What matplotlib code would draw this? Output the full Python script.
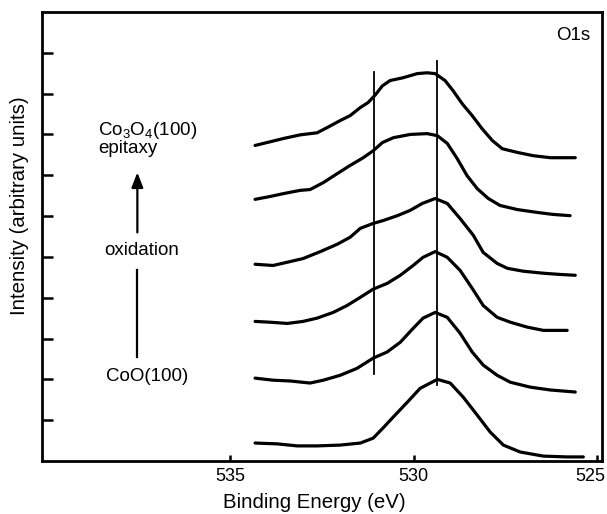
import numpy as np
import matplotlib.pyplot as plt
from matplotlib.transforms import ScaledTranslation

plt.rcParams['font.family'] = ['Liberation Sans', 'DejaVu Sans']
plt.rcParams['mathtext.fontset'] = 'custom'
plt.rcParams['mathtext.rm'] = 'Liberation Sans'
plt.rcParams['mathtext.it'] = 'Liberation Sans'

# O1s spectra, bottom (CoO) to top (Co3O4 epitaxy), offset already included
e6 = [534.32, 533.72, 533.17, 532.63, 532.00, 531.45, 531.10, 530.83, 530.55, 530.17,
      529.82, 529.35, 529.00, 528.64, 528.26, 527.91, 527.55, 527.09, 526.46, 525.81, 525.37]
i6 = [0.44, 0.42, 0.37, 0.37, 0.39, 0.44, 0.56, 0.81, 1.08, 1.44,
      1.78, 2.00, 1.91, 1.56, 1.12, 0.71, 0.39, 0.22, 0.12, 0.10, 0.10]

e5 = [534.32, 533.83, 533.36, 532.82, 532.46, 532.00, 531.54, 531.10, 530.72, 530.36, 530.01,
      529.74, 529.41, 529.08, 528.73, 528.40, 528.10, 527.72, 527.36, 526.82, 526.27, 525.59]
i5 = [2.03, 1.98, 1.96, 1.91, 1.98, 2.10, 2.27, 2.52, 2.67, 2.91, 3.25,
      3.50, 3.64, 3.52, 3.13, 2.67, 2.35, 2.10, 1.93, 1.81, 1.74, 1.69]

e4 = [534.32, 533.91, 533.44, 533.01, 532.63, 532.19, 531.81, 531.45, 531.10, 530.72, 530.36,
      530.01, 529.74, 529.41, 529.08, 528.73, 528.40, 528.10, 527.72, 527.36, 526.90, 526.46, 525.81]
i4 = [3.42, 3.40, 3.37, 3.42, 3.50, 3.64, 3.81, 4.01, 4.21, 4.35, 4.55,
      4.79, 4.99, 5.13, 4.99, 4.67, 4.23, 3.81, 3.52, 3.40, 3.28, 3.20, 3.20]

e3 = [534.32, 533.83, 533.44, 533.01, 532.54, 532.08, 531.73, 531.45, 531.10, 530.83, 530.44, 530.09,
      529.76, 529.41, 529.08, 528.73, 528.37, 528.10, 527.72, 527.44, 527.01, 526.46, 526.00, 525.59]
i3 = [4.82, 4.79, 4.87, 4.96, 5.13, 5.31, 5.48, 5.70, 5.82, 5.89, 6.01, 6.14,
      6.31, 6.43, 6.31, 5.94, 5.53, 5.11, 4.84, 4.72, 4.65, 4.60, 4.57, 4.55]

e2 = [534.32, 533.91, 533.55, 533.09, 532.82, 532.46, 532.08, 531.73, 531.37, 531.10, 530.85, 530.55,
      530.09, 529.63, 529.35, 529.08, 528.81, 528.54, 528.26, 527.96, 527.64, 527.17, 526.63, 526.19, 525.73]
i2 = [6.41, 6.48, 6.55, 6.63, 6.65, 6.82, 7.04, 7.24, 7.43, 7.60, 7.80, 7.92,
      8.00, 8.02, 7.97, 7.78, 7.41, 6.99, 6.67, 6.43, 6.26, 6.16, 6.09, 6.04, 6.01]

e1 = [534.32, 533.91, 533.55, 533.09, 532.63, 532.35, 532.00, 531.73, 531.45, 531.24, 531.04, 530.85,
      530.64, 530.28, 529.90, 529.63, 529.41, 529.14, 528.92, 528.67, 528.40, 528.13, 527.85, 527.58,
      527.17, 526.74, 526.27, 525.59]
i1 = [7.73, 7.82, 7.90, 7.99, 8.04, 8.17, 8.34, 8.46, 8.66, 8.78, 8.97, 9.19,
      9.32, 9.39, 9.49, 9.51, 9.49, 9.32, 9.07, 8.75, 8.46, 8.14, 7.85, 7.65,
      7.56, 7.48, 7.43, 7.43]

# reference lines (binding energy, y from, y to)
vlines_e = [531.07, 529.35]
vlines_lo = [2.13, 1.86]
vlines_hi = [9.54, 9.80]

xticks = [535, 530, 525]

fig = plt.figure(figsize=(6.07, 5.14), dpi=100)
ax = fig.add_axes([0.0692, 0.1031, 0.9226, 0.8736])

for e, i in [(e1, i1), (e2, i2), (e3, i3), (e4, i4), (e5, i5), (e6, i6)]:
    ax.plot(e, i, color='black', lw=2.3, solid_joinstyle='round', solid_capstyle='round')

for xe, lo, hi in zip(vlines_e, vlines_lo, vlines_hi):
    ax.plot([xe, xe], [lo, hi], color='black', lw=1.3)

ax.set_xlim(540.13, 524.86)
ax.set_ylim(0, 11)
ax.set_xticks(xticks)
ax.set_xticklabels([str(t) for t in xticks])
ax.set_yticks(range(1, 11))
ax.set_yticklabels([])
ax.tick_params(axis='x', direction='in', length=4.5, width=1.8, labelsize=13, pad=5)
ax.tick_params(axis='y', direction='in', length=8, width=1.8)
for s in ax.spines.values():
    s.set_linewidth(2.0)

# last tick label sits a bit left so it stays inside the figure
lab = ax.get_xticklabels()[-1]
lab.set_transform(lab.get_transform() + ScaledTranslation(-7 / 100, 0, fig.dpi_scale_trans))

ax.set_xlabel('Binding Energy (eV)', fontsize=14.7)
ax.xaxis.set_label_coords(0.486, -0.071)
ax.set_ylabel('Intensity (arbitrary units)', fontsize=14.7)
ax.yaxis.set_label_coords(-0.023, 0.568)

# annotations
ax.text(525.18, 10.42, 'O1s', fontsize=13.5, ha='right', va='center')
ax.text(538.60, 8.09, r'Co$_3$O$_4$(100)', fontsize=13.5, ha='left', va='center')
ax.text(538.60, 7.65, 'epitaxy', fontsize=13.5, ha='left', va='center')
ax.text(537.40, 5.16, 'oxidation', fontsize=13.5, ha='center', va='center')
ax.text(537.26, 2.08, 'CoO(100)', fontsize=13.5, ha='center', va='center')
ax.annotate('', xy=(537.53, 7.07), xytext=(537.53, 5.60),
            arrowprops=dict(arrowstyle='-|>,head_length=0.9,head_width=0.35',
                            color='black', lw=1.6, shrinkA=0, shrinkB=0))
ax.plot([537.53, 537.53], [2.54, 4.67], color='black', lw=1.6)

fig.savefig('out.png', dpi=100)
